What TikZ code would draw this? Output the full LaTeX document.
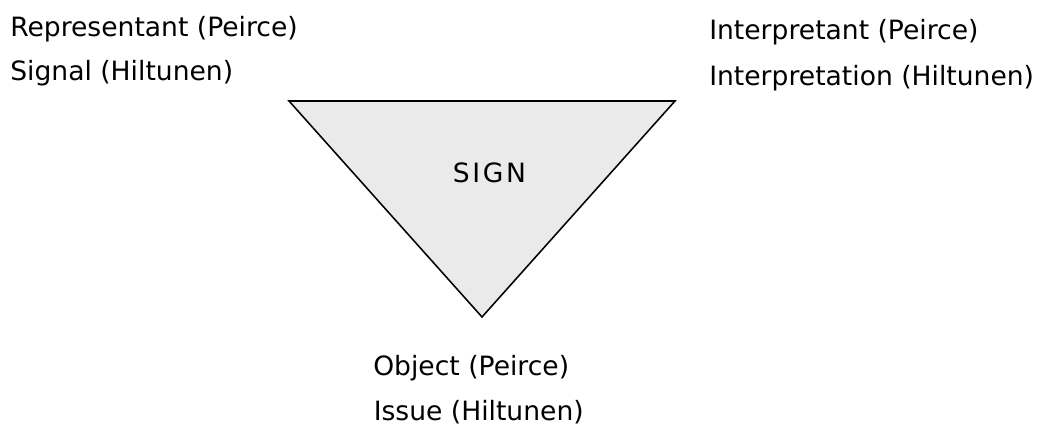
\documentclass[tikz,border=0pt]{standalone}
\usepackage{fontspec}
\setmainfont{DejaVu Sans}
\usepackage{tikz}
\definecolor{signgray}{RGB}{234,234,234}
\tikzset{
    every node/.style={inner sep=0pt, anchor=base west,
    	font=\fontsize{18.9}{22}\selectfont}
}
\tikzset{
	tri/.style={draw, line width=1.1pt, fill=signgray, line join=miter}
}
\begin{document}
\begin{tikzpicture}[x=0.025cm, y=-0.025cm]
  \useasboundingbox (0,0) rectangle (1040,425);
  \coordinate (0) at (289,101);
  \coordinate (1) at (675,101);
  \coordinate (2) at (482,317);

  \draw[tri] (0) -- (1) -- (2) -- cycle;
  \node[anchor=center, font=\fontsize{18.9}{22}\selectfont\addfontfeatures{LetterSpace=10}] (sign) at (489.5,173) {SIGN};

  \node (rep) at (10,37) {Representant (Peirce)};
  \node (sig) at (10,80.5) {Signal (Hiltunen)};
  \node (int) at (709,39.5) {Interpretant (Peirce)};
  \node (intn) at (709,86) {Interpretation (Hiltunen)};
  \node (obj) at (373,376) {Object (Peirce)};
  \node (iss) at (373.5,420.5) {Issue (Hiltunen)};
\end{tikzpicture}
\end{document}
